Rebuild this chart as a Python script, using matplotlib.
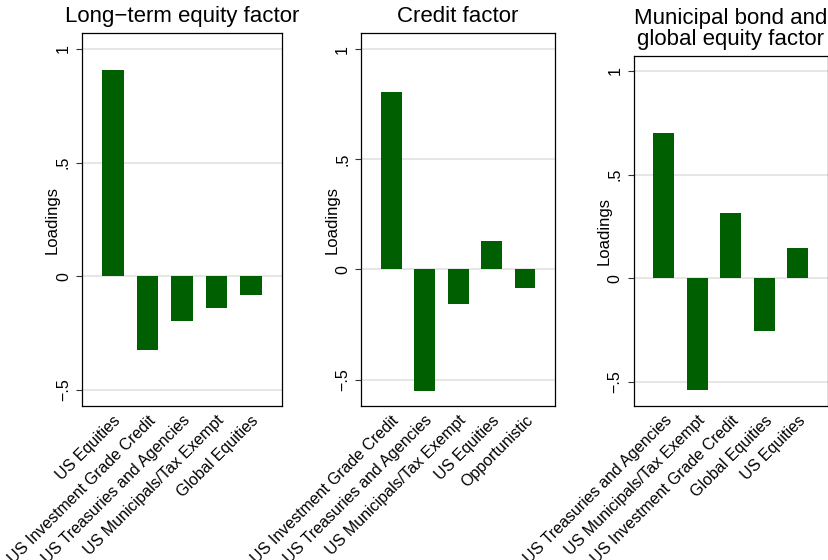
import matplotlib
matplotlib.use("Agg")
import matplotlib.pyplot as plt

plt.rcParams['font.family'] = ['Liberation Sans', 'DejaVu Sans']

# factor loadings per panel
titles = ["Long\u2212term equity factor", "Credit factor",
          "Municipal bond and\nglobal equity factor"]

assets1 = ["US Equities", "US Investment Grade Credit", "US Treasuries and Agencies",
           "US Municipals/Tax Exempt", "Global Equities"]
loadings1 = [0.906, -0.324, -0.198, -0.141, -0.084]

assets2 = ["US Investment Grade Credit", "US Treasuries and Agencies",
           "US Municipals/Tax Exempt", "US Equities", "Opportunistic"]
loadings2 = [0.805, -0.553, -0.158, 0.129, -0.085]

assets3 = ["US Treasuries and Agencies", "US Municipals/Tax Exempt",
           "US Investment Grade Credit", "Global Equities", "US Equities"]
loadings3 = [0.701, -0.539, 0.317, -0.254, 0.146]

yticks = [-0.5, 0, 0.5, 1]
ytick_labels = ["\u2212.5", "0", ".5", "1"]

BAR = "#005f00"
GRID = "#e4e4e4"

fig = plt.figure(figsize=(8.29, 5.60), dpi=100, facecolor="white")

# axes boxes in figure fractions, plus y ranges
boxes = [(0.0989, 0.275, 0.2413, 0.666),
         (0.4358, 0.275, 0.2337, 0.666),
         (0.7644, 0.275, 0.2344, 0.6255)]
ylims = [(-0.57, 1.07), (-0.62, 1.073), (-0.616, 1.074)]
panels = [(assets1, loadings1), (assets2, loadings2), (assets3, loadings3)]

for box, ylim, title, (names, vals) in zip(boxes, ylims, titles, panels):
    ax = fig.add_axes(box)
    xs = list(range(len(vals)))
    ax.bar(xs, vals, width=0.62, color=BAR, zorder=3)
    ax.set_xlim(-0.9, len(vals) - 0.1)
    ax.set_ylim(*ylim)

    ax.set_yticks(yticks)
    ax.set_yticklabels(ytick_labels, rotation=90, va="center")
    ax.yaxis.grid(True, color=GRID, lw=1.3, zorder=0)
    ax.set_axisbelow(True)
    ax.tick_params(axis="y", length=4, width=0.8, color="#333333",
                   labelsize=11.5, pad=4)

    ax.set_xticks(xs)
    ax.set_xticklabels(names, rotation=45, ha="right", va="top",
                       rotation_mode="anchor", fontsize=11.5)
    ax.tick_params(axis="x", length=0, pad=5)

    ax.set_ylabel("Loadings", fontsize=12, labelpad=-3)
    ax.set_title(title, fontsize=16, pad=8, linespacing=1.0)

    for sp in ax.spines.values():
        sp.set_color("black")
        sp.set_linewidth(0.9)

fig.savefig("out.png", dpi=100, facecolor="white")
